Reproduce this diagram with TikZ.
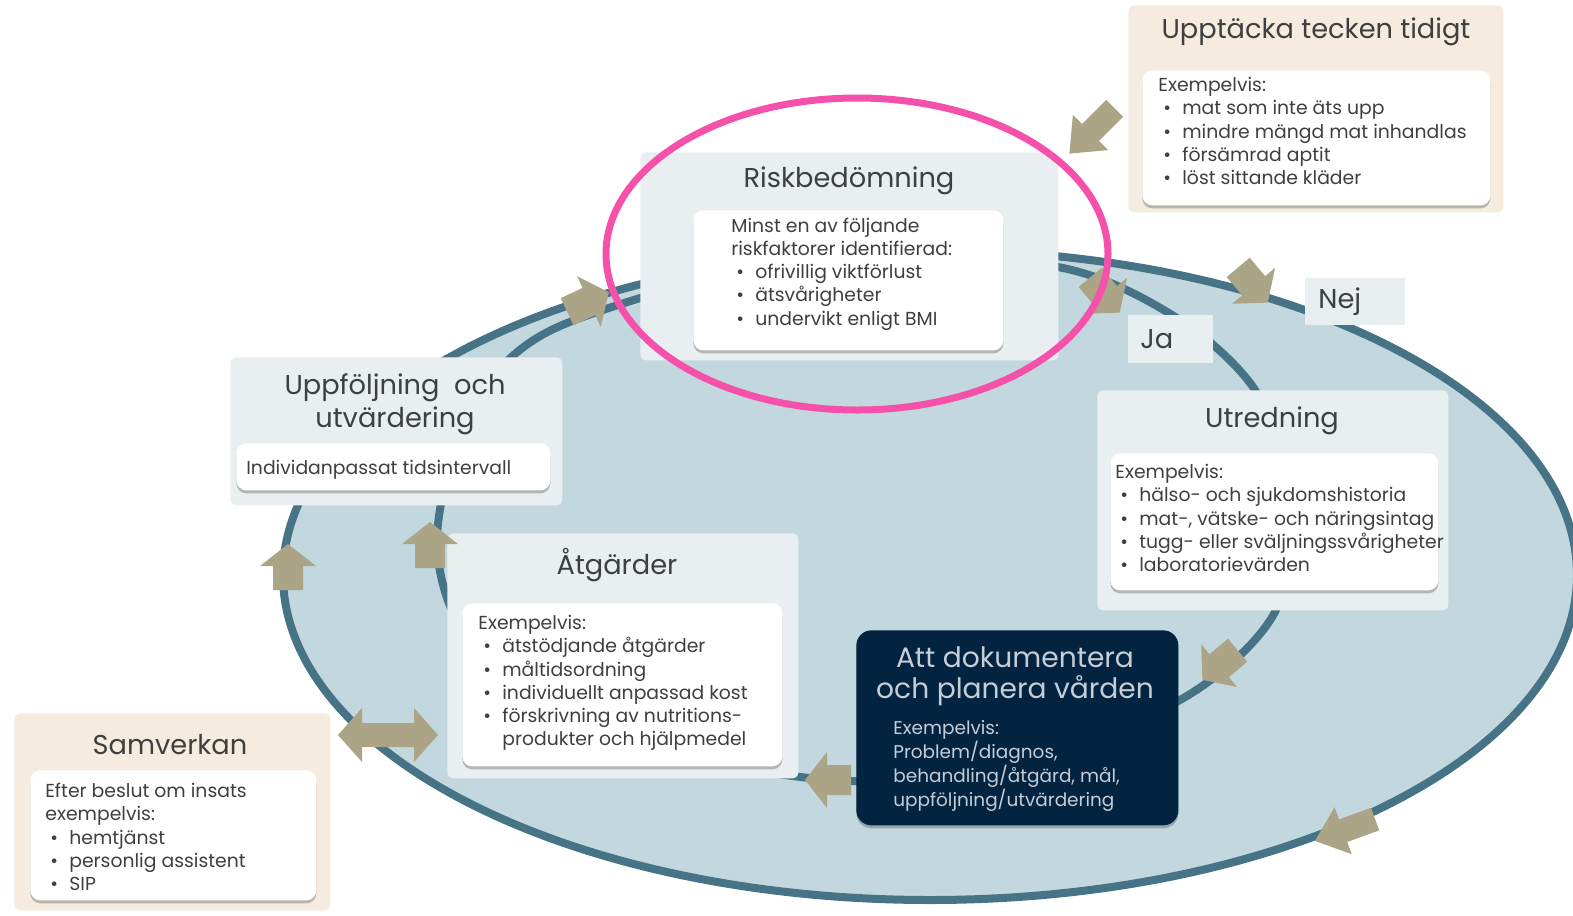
\documentclass[tikz,border=0pt]{standalone}
\usepackage{fontspec}
\setmainfont{Poppins}
\usetikzlibrary{positioning,shadows}
\definecolor{cyclefill}{HTML}{C3D8DE}
\definecolor{cycleline}{HTML}{467486}
\definecolor{panelfill}{HTML}{E9EFF0}
\definecolor{sandfill}{HTML}{F5ECDF}
\definecolor{arrowcol}{HTML}{ABA486}
\definecolor{navy}{HTML}{022441}
\definecolor{ringpink}{HTML}{F651AA}
\definecolor{textgray}{HTML}{3F3F3F}
\definecolor{doktextcol}{HTML}{C5CDD5}
\newcommand{\itm}{\makebox[4.8mm][l]{\hspace{1mm}\textbullet}}

\begin{document}
\begin{tikzpicture}[x=0.2mm,y=-0.2mm,
  panel/.style={fill=panelfill,rounded corners=1.2mm,anchor=north west,inner sep=0pt},
  sandpanel/.style={panel,fill=sandfill},
  card/.style={fill=white,rounded corners=2mm,anchor=north west,inner sep=0pt,
    drop shadow={shadow xshift=0mm,shadow yshift=-0.6mm,opacity=0.35,fill=black!70}},
  heading/.style={text=textgray,align=center,font=\fontsize{15.5}{18.8}\selectfont},
  body/.style={text=textgray,align=left,anchor=west,inner sep=0pt,font=\fontsize{10.7}{13.2}\selectfont},
  tag/.style={fill=panelfill,anchor=north west,inner ysep=0pt,align=left,text=textgray,font=\fontsize{15.5}{18.8}\selectfont},
  shortarrow/.pic={\fill[arrowcol] (-23,-15) -- (1,-15) -- (1,-28) -- (23,0) -- (1,28) -- (1,15) -- (-23,15) -- cycle;},
  longarrow/.pic={\fill[arrowcol] (-32,-12) -- (2,-12) -- (2,-25) -- (32,0) -- (2,25) -- (2,12) -- (-32,12) -- cycle;},
  twoarrow/.pic={\fill[arrowcol] (-50,0) -- (-26,-27) -- (-26,-12) -- (26,-12) -- (26,-27) -- (50,0) -- (26,27) -- (26,12) -- (-26,12) -- (-26,27) -- cycle;}
]
\useasboundingbox (0,0) rectangle (1573,916);

\draw[fill=cyclefill,draw=cycleline,line width=1.6mm] (930,575) ellipse [x radius=129.4mm,y radius=65mm];
\draw[cycleline,line width=1.6mm] plot[smooth cycle] coordinates {(1063,268) (1180,320) (1255,390) (1290,490) (1275,612) (1180,700) (1000,765) (830,780) (600,735) (470,640) (437,540) (470,412) (560,326) (840,250)};

\node[sandpanel,minimum width=75mm,minimum height=41.4mm] (upptpanel) at (1128,5) {};
\node[heading] (uppttitle) at (1316,32) {Upptäcka tecken tidigt};
\node[card,minimum width=69.6mm,minimum height=27mm] (upptcard) at (1142,70) {};
\node[body] (uppttext) at (1158,131) {Exempelvis:\\\itm mat som inte äts upp\\\itm mindre mängd mat inhandlas\\\itm försämrad aptit\\\itm löst sittande kläder};

\node[panel,minimum width=83.6mm,minimum height=41.6mm] (riskpanel) at (640,152) {};
\node[heading] (risktitle) at (849,181) {Riskbedömning};
\node[card,minimum width=62mm,minimum height=28mm] (riskcard) at (693,210) {};
\node[body] (risktext) at (731,274) {Minst en av följande\\riskfaktorer identifierad:\\\itm ofrivillig viktförlust\\\itm ätsvårigheter\\\itm undervikt enligt BMI};

\node[panel,minimum width=66.4mm,minimum height=29.6mm] (uppfpanel) at (230,357) {};
\node[heading] (uppftitle) at (395,404) {Uppföljning\ \ och\\utvärdering};
\node[card,minimum width=62.8mm,minimum height=9.4mm] (uppfcard) at (236,443) {};
\node[body] (uppftext) at (246,470) {Individanpassat tidsintervall};

\node[panel,minimum width=70.2mm,minimum height=44mm] (utrpanel) at (1097,390) {};
\node[heading] (utrtitle) at (1272,421) {Utredning};
\node[card,minimum width=65.6mm,minimum height=27.4mm] (utrcard) at (1110,453) {};
\node[body] (utrtext) at (1115,518) {Exempelvis:\\\itm hälso- och sjukdomshistoria\\\itm mat-, vätske- och näringsintag\\\itm tugg- eller sväljningssvårigheter\\\itm laboratorievärden};

\node[panel,minimum width=70.2mm,minimum height=49mm] (atgpanel) at (447,533) {};
\node[heading] (atgtitle) at (617,565) {Åtgärder};
\node[card,minimum width=64mm,minimum height=32.6mm] (atgcard) at (462,603) {};
\node[body] (atgtext) at (478,683) {Exempelvis:\\\itm ätstödjande åtgärder\\\itm måltidsordning\\\itm individuellt anpassad kost\\\itm förskrivning av nutritions-\\\hspace*{4.8mm}produkter och hjälpmedel};

\node[sandpanel,minimum width=63.2mm,minimum height=39.4mm] (samvpanel) at (14,713) {};
\node[heading] (samvtitle) at (170,745) {Samverkan};
\node[card,minimum width=57.2mm,minimum height=26mm] (samvcard) at (30,770) {};
\node[body] (samvtext) at (45,837) {Efter beslut om insats\\exempelvis:\\\itm hemtjänst\\\itm personlig assistent\\\itm SIP};

\node[fill=navy,rounded corners=3mm,anchor=north west,minimum width=64.4mm,minimum height=39mm,
  drop shadow={shadow xshift=0mm,shadow yshift=-0.6mm,opacity=0.35,fill=black!70}] (dokbox) at (856,630) {};
\node[heading,text=doktextcol,font=\fontsize{16}{17.6}\selectfont] (doktitle) at (1015,676) {Att dokumentera\\och planera vården};
\node[body,text=doktextcol,font=\fontsize{10.5}{13.6}\selectfont] (doktext) at (893,766) {Exempelvis:\\Problem/diagnos,\\behandling/åtgärd, mål,\\uppföljning/utvärdering};

\node[tag,minimum height=9.6mm,inner xsep=2.4mm,text width=12.2mm] (ja) at (1128,315) {Ja};
\node[tag,minimum height=9.4mm,inner xsep=2.6mm,text width=14.8mm] (nej) at (1305,278) {Nej};

\pic[rotate=225] at (1092,131) {longarrow};
\pic[rotate=25] at (588,302) {shortarrow};
\pic[rotate=90] at (288,567) {shortarrow};
\pic[rotate=90] at (430,545) {shortarrow};
\pic[rotate=-50] at (1105,295) {shortarrow};
\pic[rotate=-50] at (1253,285) {shortarrow};
\pic[rotate=220] at (1220,665) {shortarrow};
\pic[rotate=180] at (828,780) {shortarrow};
\pic[rotate=200] at (1345,830) {longarrow};
\pic at (388,735) {twoarrow};

\draw[ringpink,line width=1.4mm] (857,254) ellipse [x radius=50.2mm,y radius=31.2mm];
\end{tikzpicture}
\end{document}
